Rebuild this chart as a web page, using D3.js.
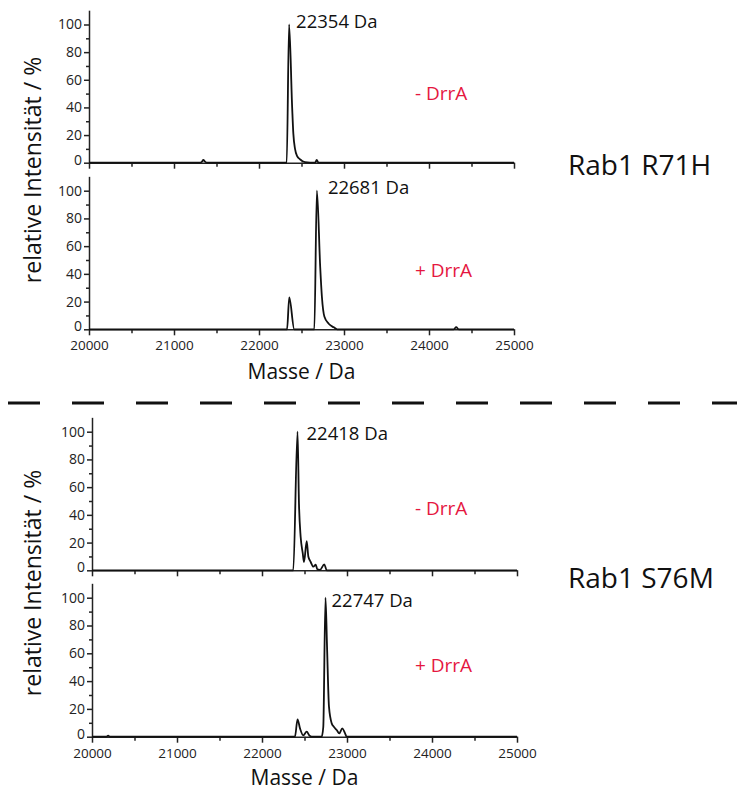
<!DOCTYPE html>
<html>
<head>
<meta charset="UTF-8">
<title>Rab1 Massenspektren</title>
<script src="https://cdn.jsdelivr.net/npm/d3@7"></script>
<style>
    body { margin: 0; background: #fff; }
    text { font-family: "Open Sans", "DejaVu Sans", sans-serif; }
</style>
</head>
<body>
<svg id="chart" width="737" height="791"></svg>
<script>
    // deconvoluted spectra, mass in Da / relative intensity in %
    const r71hMinusMass = [20000, 21300, 21330, 21345, 21365, 21390, 22326, 22354, 22390, 22404, 22424, 22447, 22482, 22541, 22660, 22679, 22700, 25000];
    const r71hMinusInt  = [0, 0, 0.8, 2, 0.8, 0, 0, 100, 40, 21, 10, 5, 2.5, 0.4, 0, 2, 0, 0];

    const r71hPlusMass = [20000, 22330, 22356, 22415, 22651, 22681, 22720, 22740, 22770, 22820, 22880, 22920, 24290, 24320, 24350, 25000];
    const r71hPlusInt  = [0, 0, 23, 0, 0, 100, 45, 23.5, 9, 4, 1.4, 0, 0, 1.5, 0, 0];

    const s76mMinusMass = [20000, 22368, 22418, 22435, 22455, 22479, 22494, 22526, 22545, 22573, 22604, 22632, 22651, 22682, 22733, 22761, 25000];
    const s76mMinusInt  = [0, 0, 100, 48, 24, 12.5, 6, 21, 10, 6, 2.6, 4, 0.7, 0.3, 4.3, 0, 0];

    const s76mPlusMass = [20000, 20170, 20190, 20210, 22388, 22418, 22447, 22486, 22526, 22556, 22585, 22702, 22721, 22747, 22765, 22788, 22820, 22847, 22879, 22909, 22945, 22976, 22996, 25000];
    const s76mPlusInt  = [0, 0, 0.8, 0, 0, 12.5, 6, 1, 3.6, 1, 0, 0, 7, 100, 65, 21.6, 9.6, 7, 4.8, 2.4, 6, 2.6, 0, 0];

    const peakLabels = ["22354 Da", "22681 Da", "22418 Da", "22747 Da"];
    const peakMasses = [22354, 22681, 22418, 22747];
    const conditionLabels = ["- DrrA", "+ DrrA", "- DrrA", "+ DrrA"];
    const mutantLabels = ["Rab1 R71H", "Rab1 S76M"];

    const xMajorTicks = [20000, 21000, 22000, 23000, 24000, 25000];
    const xMinorTicks = [20500, 21500, 22500, 23500, 24500];
    const yMajorTicks = [0, 20, 40, 60, 80, 100];
    const yMinorTicks = [10, 30, 50, 70, 90];

    const seriesMass = [r71hMinusMass, r71hPlusMass, s76mMinusMass, s76mPlusMass];
    const seriesInt = [r71hMinusInt, r71hPlusInt, s76mMinusInt, s76mPlusInt];

    // layout: left / right edge of the mass axis, pixel of 0 % and of 100 %
    const layout = [
        {left: 89, right: 514, y0: 162.7, y100: 24.5, xLabels: false, peakDx: 7, peakBase: 28, condBase: 100},
        {left: 89, right: 514, y0: 329.3, y100: 190.7, xLabels: true, titleDy: 50, peakDx: 11, peakBase: 194, condBase: 277},
        {left: 92, right: 517, y0: 570.3, y100: 431.7, xLabels: false, peakDx: 9, peakBase: 440, condBase: 515},
        {left: 92, right: 517, y0: 736.7, y100: 597.7, xLabels: true, titleDy: 48, peakDx: 6, peakBase: 607, condBase: 672}
    ];

    const svg = d3.select('#chart');
    const axisColor = '#222';
    const red = '#e5173f';

    layout.forEach(function (p, i) {
        const x = d3.scaleLinear().domain([20000, 25000]).range([p.left, p.right]);
        const y = d3.scaleLinear().domain([0, 100]).range([p.y0, p.y100]);
        const g = svg.append('g');

        // y axis: majors with labels, minors without
        const yAxis = g.append('g')
            .attr('transform', 'translate(' + p.left + ',0)')
            .call(d3.axisLeft(y).tickValues(yMajorTicks).tickSize(5).tickSizeOuter(0).tickPadding(2));
        yAxis.select('.domain').attr('d', 'M0.5,' + y(0) + 'V' + y(110));
        g.append('g')
            .attr('transform', 'translate(' + p.left + ',0)')
            .call(d3.axisLeft(y).tickValues(yMinorTicks).tickSize(3).tickFormat(''))
            .select('.domain').remove();

        // x axis
        const xAxis = g.append('g')
            .attr('transform', 'translate(0,' + p.y0 + ')')
            .call(d3.axisBottom(x).tickValues(xMajorTicks).tickSize(6).tickSizeOuter(0).tickPadding(2)
                .tickFormat(p.xLabels ? d3.format('d') : ''));
        g.append('g')
            .attr('transform', 'translate(0,' + p.y0 + ')')
            .call(d3.axisBottom(x).tickValues(xMinorTicks).tickSize(4).tickFormat(''))
            .select('.domain').remove();

        g.selectAll('.domain, .tick line').attr('stroke', axisColor).attr('stroke-width', 1.5);
        g.selectAll('.tick text').attr('fill', axisColor)
            .style('font-family', '"Open Sans", sans-serif').style('font-size', '14px');
        xAxis.selectAll('.tick text').attr('dy', '0.95em').style('font-size', '13.5px');
        // keep the "0" clear of the first mass label
        yAxis.selectAll('.tick text').filter(function (d) { return d === 0; }).attr('dy', '0.1em');

        // spectrum
        const pts = seriesMass[i].map(function (m, k) { return [m, seriesInt[i][k]]; });
        g.append('path')
            .datum(pts)
            .attr('fill', 'none')
            .attr('stroke', '#111')
            .attr('stroke-width', 1.8)
            .attr('stroke-linejoin', 'round')
            .attr('d', d3.line().curve(d3.curveMonotoneX)
                .x(function (d) { return x(d[0]); }).y(function (d) { return y(d[1]); }));

        g.append('text')
            .attr('x', x(peakMasses[i]) + p.peakDx)
            .attr('y', p.peakBase)
            .attr('fill', '#111')
            .style('font-size', '18.5px')
            .text(peakLabels[i]);

        g.append('text')
            .attr('x', 415)
            .attr('y', p.condBase)
            .attr('fill', red)
            .style('font-size', '19px')
            .text(conditionLabels[i]);

        if (p.xLabels) {
            g.append('text')
                .attr('x', (p.left + p.right) / 2)
                .attr('y', p.y0 + p.titleDy)
                .attr('text-anchor', 'middle')
                .attr('fill', '#111')
                .style('font-size', '21px')
                .text('Masse / Da');
        }
    });

    // y titles and mutant names for each half
    [170, 583].forEach(function (cy, h) {
        svg.append('text')
            .attr('transform', 'translate(41,' + cy + ') rotate(-90)')
            .attr('text-anchor', 'middle')
            .attr('fill', '#111')
            .style('font-size', '23px')
            .text('relative Intensität / %');
        svg.append('text')
            .attr('x', 568)
            .attr('y', [175, 588][h])
            .attr('fill', '#111')
            .style('font-size', '28px')
            .text(mutantLabels[h]);
    });

    // separator
    svg.append('line')
        .attr('x1', 8).attr('x2', 737)
        .attr('y1', 403).attr('y2', 403)
        .attr('stroke', '#111')
        .attr('stroke-width', 3)
        .attr('stroke-dasharray', '32,32');
</script>
</body>
</html>
